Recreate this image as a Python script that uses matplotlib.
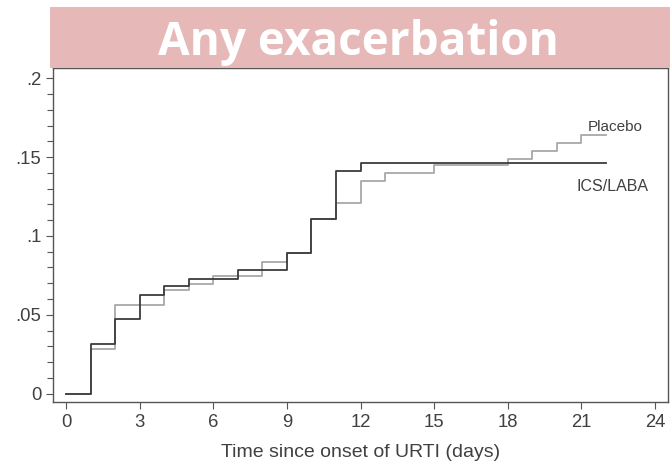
import matplotlib
matplotlib.use("Agg")
import matplotlib.pyplot as plt
from matplotlib.patches import Rectangle
import numpy as np

days = list(range(0, 23))
ics_laba = [0, 0.0316, 0.0473, 0.0627, 0.068, 0.073, 0.073, 0.0783, 0.0783, 0.089,
            0.1105, 0.1413, 0.1464, 0.1464, 0.1464, 0.1464, 0.1464, 0.1464, 0.1464,
            0.1464, 0.1464, 0.1464, 0.1464]
placebo = [0, 0.0283, 0.0559, 0.0559, 0.0658, 0.0696, 0.0745, 0.0745, 0.0835, 0.089,
           0.1105, 0.1207, 0.135, 0.1397, 0.1397, 0.145, 0.145, 0.145, 0.1487,
           0.154, 0.159, 0.1637, 0.1637]
xticks = [0, 3, 6, 9, 12, 15, 18, 21, 24]
yticks = [0, 0.05, 0.1, 0.15, 0.2]
ytick_labels = ["0", ".05", ".1", ".15", ".2"]
title = "Any exacerbation"
xlabel = "Time since onset of URTI (days)"

plt.rcParams['font.family'] = ['Liberation Sans', 'DejaVu Sans']

fig = plt.figure(figsize=(6.7, 4.65), dpi=100)
W, H = 670, 465
ax = fig.add_axes([53 / W, 1 - 402 / H, (668 - 53) / W, (402 - 68) / H])

txt_col = "#404040"
ax.step(days, placebo, where="post", color="#a8a8a8", lw=1.3)
ax.step(days, ics_laba, where="post", color="#3c3c3c", lw=1.3)

ax.set_xlim(-0.53, 24.53)
ax.set_ylim(-0.0053, 0.2065)
ax.set_xticks(xticks)
ax.set_yticks(yticks)
ax.set_yticklabels(ytick_labels)
ax.set_yticks(np.arange(0, 0.2001, 0.01), minor=True)
ax.tick_params(axis="both", which="both", direction="out", colors="#555555",
               labelcolor=txt_col, labelsize=13.3, length=5, width=0.8)
ax.tick_params(axis="y", which="minor", length=4)
for s in ax.spines.values():
    s.set_color("#555555")
    s.set_linewidth(1.0)
ax.set_xlabel(xlabel, fontsize=14, color=txt_col)
ax.xaxis.set_label_coords(0.5, -0.125)

ax.text(21.27, 0.1668, "Placebo", fontsize=11, color=txt_col, ha="left", va="baseline")
ax.text(22.25, 0.1287, "ICS/LABA", fontsize=11.5, color=txt_col, ha="center", va="baseline")

fig.patches.append(Rectangle((50 / W, 1 - 68 / H), (670 - 50) / W, 61 / H,
                             transform=fig.transFigure, facecolor="#e6b8b8",
                             edgecolor="none", zorder=5))
fig.text(358.7 / W, 1 - 55 / H, title, fontsize=33, fontweight="bold", color="white",
         ha="center", va="baseline", family=["Open Sans", "DejaVu Sans"], zorder=6)

fig.savefig("out.png", dpi=100)
